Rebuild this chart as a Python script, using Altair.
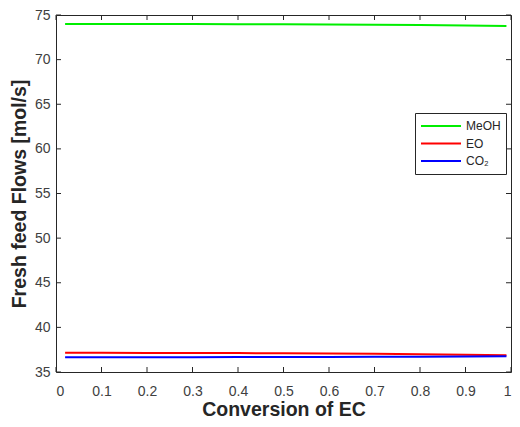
import altair as alt
import pandas as pd

# Data
conversion = [0.02, 0.1, 0.2, 0.3, 0.4, 0.5, 0.6, 0.7, 0.8, 0.9, 0.99]
meoh = [74.0, 74.0, 74.0, 73.98, 73.97, 73.95, 73.93, 73.9, 73.87, 73.83, 73.78]
eo = [37.15, 37.15, 37.14, 37.13, 37.12, 37.1, 37.08, 37.04, 36.99, 36.93, 36.87]
co2 = [36.65, 36.65, 36.66, 36.66, 36.67, 36.68, 36.69, 36.7, 36.72, 36.74, 36.76]
series_names = ["MeOH", "EO", "CO₂"]
series_colors = ["#00ee00", "#ff0000", "#0000ff"]
x_ticks = [0, 0.1, 0.2, 0.3, 0.4, 0.5, 0.6, 0.7, 0.8, 0.9, 1]
y_ticks = [35, 40, 45, 50, 55, 60, 65, 70, 75]

rows = []
for name, vals in zip(series_names, [meoh, eo, co2]):
    for xv, yv in zip(conversion, vals):
        rows.append({"x": xv, "y": yv, "series": name})
df = pd.DataFrame(rows)

W, H = 455, 357
TL = 5
xscale = alt.Scale(domain=[0, 1], nice=False, zero=False)
yscale = alt.Scale(domain=[35, 75], nice=False, zero=False)

font = "Liberation Sans"

xaxis = alt.Axis(values=x_ticks, format="~g", ticks=False, domain=False, grid=False,
                 labelFontSize=14, labelColor="#404040", labelFont=font, labelPadding=12,
                 titleFontSize=19.5, titleFont=font, titleFontWeight="bold",
                 titleColor="#262626", titlePadding=2)
yaxis = alt.Axis(values=y_ticks, ticks=False, domain=False, grid=False,
                 labelFontSize=14, labelColor="#404040", labelFont=font, labelPadding=6,
                 titleFontSize=19.5, titleFont=font, titleFontWeight="bold",
                 titleColor="#262626", titlePadding=5)
XT = "Conversion of EC"
YT = "Fresh feed Flows [mol/s]"

lines = alt.Chart(df).mark_line(strokeWidth=2).encode(
    x=alt.X("x:Q", scale=xscale, title=XT, axis=xaxis),
    y=alt.Y("y:Q", scale=yscale, title=YT, axis=yaxis),
    color=alt.Color("series:N", sort=series_names,
                    scale=alt.Scale(domain=series_names, range=series_colors),
                    legend=alt.Legend(title=None, orient="none", legendX=359, legendY=98,
                                      symbolType="stroke", symbolSize=1600, symbolStrokeWidth=2,
                                      clipHeight=16, labelFontSize=12, labelFont=font,
                                      labelColor="#262626", strokeColor="#262626",
                                      fillColor="white", padding=5, labelOffset=4,
                                      rowPadding=1.5)),
    detail="series:N",
)

xt = pd.DataFrame({"t": x_ticks})
yt = pd.DataFrame({"t": y_ticks})

tick_color = "#262626"
bx = alt.Chart(xt).mark_rule(color=tick_color).encode(
    x=alt.X("t:Q", scale=xscale, axis=xaxis, title=XT), y=alt.value(H), y2=alt.value(H - TL))
tx = alt.Chart(xt).mark_rule(color=tick_color).encode(
    x=alt.X("t:Q", scale=xscale, axis=xaxis, title=XT), y=alt.value(0), y2=alt.value(TL))
ly = alt.Chart(yt).mark_rule(color=tick_color).encode(
    y=alt.Y("t:Q", scale=yscale, axis=yaxis, title=YT), x=alt.value(0), x2=alt.value(TL))
ry = alt.Chart(yt).mark_rule(color=tick_color).encode(
    y=alt.Y("t:Q", scale=yscale, axis=yaxis, title=YT), x=alt.value(W), x2=alt.value(W - TL))

chart = alt.layer(lines, bx, tx, ly, ry).properties(
    width=W, height=H,
    autosize=alt.AutoSizeParams(type="none"),
    padding={"left": 48, "top": 7, "right": 1, "bottom": 52},
    background="white",
).configure_view(stroke="#262626", strokeWidth=1)

chart.save("out.html", embed_options={"renderer": "svg", "actions": False})
